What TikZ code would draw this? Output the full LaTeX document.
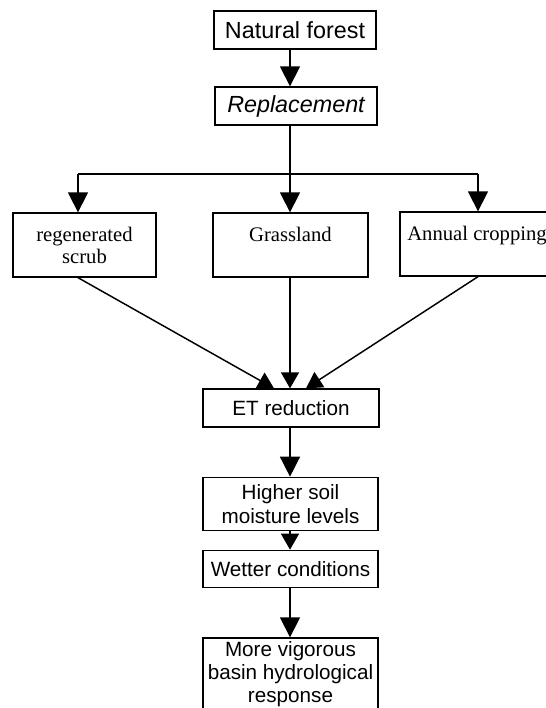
\documentclass[tikz,border=0pt]{standalone}
\usepackage{fontspec}
\setmainfont{Liberation Serif}
\newfontfamily\arialf{Liberation Sans}
\usetikzlibrary{arrows.meta,calc}
\tikzset{
  box/.style={draw, line width=1pt, inner sep=0pt, align=center, anchor=center},
  sansbox/.style={box, font=\arialf\fontsize{15.5}{17.5}\selectfont},
  topbox/.style={box, font=\arialf\fontsize{17.5}{19}\selectfont, minimum width=122pt, minimum height=28.5pt},
  serifbox/.style={box, font=\fontsize{15.5}{16.5}\selectfont, minimum height=48pt},
  conn/.style={line width=1.1pt},
  arr/.style={conn, -{Triangle[width=15pt,length=15pt]}},
  arrs/.style={conn, -{Triangle[width=13.5pt,length=12pt]}}
}
\begin{document}
\begin{tikzpicture}[x=0.75pt,y=-0.75pt]
\useasboundingbox (0,0) rectangle (546,708);
\coordinate (cx) at (290,0);
\coordinate (jl) at (78,174);
\coordinate (jc) at (290,174);
\coordinate (jr) at (478,174);

\node[topbox, line width=1.6pt] (nf) at (295,30) {Natural forest};
\node[topbox, minimum width=121.5pt] (rep) at (296,106) {\itshape Replacement};

\node[serifbox, minimum width=107.25pt] (scrub) at (84.5,245) {regenerated\\scrub};
\node[serifbox, minimum width=116.25pt] (grass) at (290.5,245) {Grassland\\\mbox{}};
\node[serifbox, minimum width=115.5pt] (crop) at (477,244) {Annual cropping\\\mbox{}};

\node[sansbox, minimum width=132pt, minimum height=28.5pt] (et) at (291,408) {ET reduction};
\node[sansbox, minimum width=131.25pt, minimum height=40pt] (soil) at (290.5,504) {Higher soil\\moisture levels};
\node[sansbox, minimum width=131.25pt, minimum height=28pt] (wet) at (290.5,569) {Wetter conditions};
\node[sansbox, minimum width=131.25pt, minimum height=54pt] (vig) at (290.5,674) {More vigorous\\basin hydrological\\response};

\draw[arr] (nf.south -| cx) -- (rep.north -| cx);
\draw[conn] (rep.south -| cx) -- (jc);
\draw[conn] (jl) -- (jr);
\draw[arr] (jl) -- (jl |- scrub.north);
\draw[arr] (jc) -- (jc |- grass.north);
\draw[arr] (jr) -- (jr |- crop.north);

\draw[arrs] (jl |- scrub.south) -- ($(et.north -| cx)+(-16,0)$);
\draw[arrs] (jc |- grass.south) -- (et.north -| cx);
\draw[arrs] (jr |- crop.south) -- ($(et.north -| cx)+(16,0)$);

\draw[arr] (et.south -| cx) -- (soil.north -| cx);
\draw[arrs] (soil.south -| cx) -- (wet.north -| cx);
\draw[arr] (wet.south -| cx) -- (vig.north -| cx);
\end{tikzpicture}
\end{document}
